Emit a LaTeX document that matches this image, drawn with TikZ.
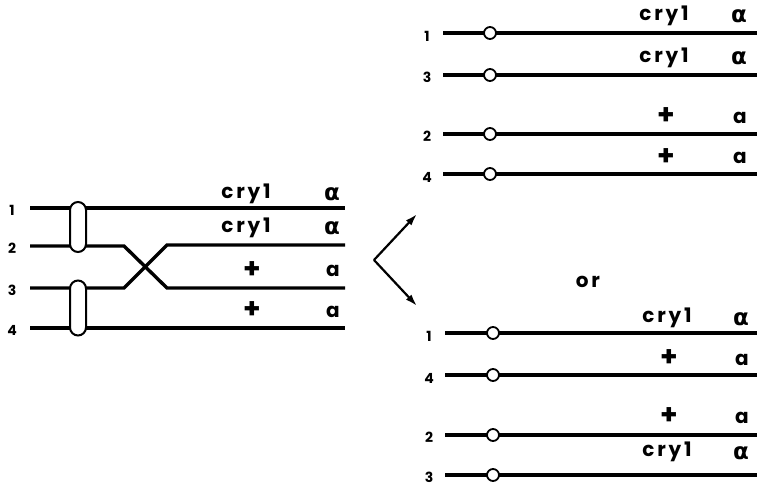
\documentclass[tikz,border=0pt]{standalone}
\usepackage{fontspec}
\setmainfont{Poppins}[LetterSpace=14,BoldFont={Poppins Bold}]
\newfontfamily\grk{DejaVu Sans}
\usetikzlibrary{arrows.meta}
\begin{document}
\begin{tikzpicture}[x=1pt,y=-1pt,
  chrom/.style={line width=3.4pt},
  lbl/.style={font=\fontsize{20}{20}\selectfont\bfseries, inner sep=0pt},
  num/.style={font=\fontsize{14}{14}\selectfont\bfseries, inner sep=0pt},
  cen/.style={circle, draw, line width=1.8pt, fill=white, inner sep=0pt, minimum size=12pt},
  oval/.style={draw, line width=2pt, fill=white, rounded corners=8pt, minimum width=16pt, minimum height=#1, inner sep=0pt},
  arr/.style={line width=2.2pt, -{Latex[length=12pt,width=7.5pt]}}]
\useasboundingbox (0,0) rectangle (757,486);
\newcommand{\al}{{\grk\fontsize{23}{23}\selectfont\bfseries α}}
\newcommand{\pl}{{\fontsize{28}{28}\selectfont\bfseries +}}
% ---------- left diagram ----------
\node[num] (n1) at (12,210) {1};
\node[num] (n2) at (12,248) {2};
\node[num] (n3) at (12,290) {3};
\node[num] (n4) at (12,330) {4};
\coordinate (a1s) at (30,208); \coordinate (a1e) at (345,208);
\coordinate (a2s) at (30,246); \coordinate (a2k) at (124,246); \coordinate (a2m) at (167,288); \coordinate (a2e) at (345,288);
\coordinate (a3s) at (30,288); \coordinate (a3k) at (124,288); \coordinate (a3m) at (167,245); \coordinate (a3e) at (345,245);
\coordinate (a4s) at (30,328); \coordinate (a4e) at (345,328);
\draw[chrom] (a1s) -- (a1e);
\draw[chrom] (a2s) -- (a2k) -- (a2m) -- (a2e);
\draw[chrom] (a3s) -- (a3k) -- (a3m) -- (a3e);
\draw[chrom] (a4s) -- (a4e);
\node[oval=50pt] (ov1) at (78,227) {};
\node[oval=55pt] (ov2) at (78,308) {};
\node[lbl] (l1a) at (246,194) {cry1};
\node[lbl] (l1b) at (332,194) {\al};
\node[lbl] (l2a) at (246,228) {cry1};
\node[lbl] (l2b) at (332,228) {\al};
\node[lbl] (l3a) at (252,270) {\pl};
\node[lbl] (l3b) at (333,271) {a};
\node[lbl] (l4a) at (252,310) {\pl};
\node[lbl] (l4b) at (333,312) {a};
% ---------- arrows ----------
\coordinate (v) at (374,260);
\coordinate (up) at (417,214);
\coordinate (dn) at (417,306);
\draw[arr] (v) -- (up);
\draw[arr] (v) -- (dn);
\node[lbl] (or) at (588,282) {or};
% ---------- upper right ----------
\node[num] (u1n) at (427,36) {1};
\node[num] (u3n) at (427,77) {3};
\node[num] (u2n) at (427,136) {2};
\node[num] (u4n) at (427,177) {4};
\foreach \nm/\y in {u1/33,u3/75,u2/134,u4/174}{
  \coordinate (\nm s) at (443,\y);
  \coordinate (\nm e) at (757,\y);
  \draw[chrom] (\nm s) -- (\nm e);
  \node[cen] (\nm c) at (490,\y) {};
}
\node[lbl] (ul1a) at (664,16) {cry1};
\node[lbl] (ul1b) at (739,16) {\al};
\node[lbl] (ul3a) at (664,58) {cry1};
\node[lbl] (ul3b) at (739,58) {\al};
\node[lbl] (ul2a) at (666,116) {\pl};
\node[lbl] (ul2b) at (740,118) {a};
\node[lbl] (ul4a) at (666,157) {\pl};
\node[lbl] (ul4b) at (740,158) {a};
% ---------- lower right ----------
\node[num] (d1n) at (429,336) {1};
\node[num] (d4n) at (429,378) {4};
\node[num] (d2n) at (429,437) {2};
\node[num] (d3n) at (429,477) {3};
\foreach \nm/\y in {d1/333,d4/375,d2/435,d3/475}{
  \coordinate (\nm s) at (445,\y);
  \coordinate (\nm e) at (757,\y);
  \draw[chrom] (\nm s) -- (\nm e);
  \node[cen] (\nm c) at (493,\y) {};
}
\node[lbl] (dl1a) at (667,318) {cry1};
\node[lbl] (dl1b) at (741,319) {\al};
\node[lbl] (dl4a) at (669,358) {\pl};
\node[lbl] (dl4b) at (742,360) {a};
\node[lbl] (dl2a) at (669,416) {\pl};
\node[lbl] (dl2b) at (742,418) {a};
\node[lbl] (dl3a) at (667,452) {cry1};
\node[lbl] (dl3b) at (741,453) {\al};
\end{tikzpicture}
\end{document}
